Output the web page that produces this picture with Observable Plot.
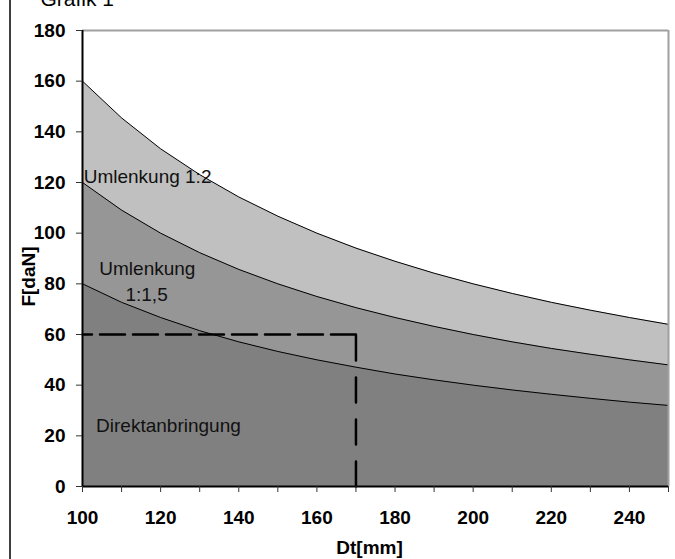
<!DOCTYPE html>
<html>
<head>
<meta charset="utf-8">
<script src="https://cdn.jsdelivr.net/npm/d3@7"></script>
<script src="https://cdn.jsdelivr.net/npm/@observablehq/plot@0.6"></script>
<style>
  html, body { margin: 0; padding: 0; background: #fff; }
  #wrap { position: relative; width: 675px; height: 559px; overflow: hidden; background: #fff; }
  #border { position: absolute; left: 9px; top: 0; width: 2px; height: 559px; background: #404040; }
  #chart { position: absolute; left: 0; top: 0; }
  g[aria-label="x-axis tick label"] text, g[aria-label="y-axis tick label"] text { font-weight: bold; }
</style>
</head>
<body>
<div id="wrap"><div id="chart"></div><div id="border"></div></div>
<script>
// Dt [mm] sample positions
const dt = [100, 110, 120, 130, 140, 150, 160, 170, 180, 190, 200, 210, 220, 230, 240, 250];
// F [daN]
const direktanbringung = [80, 72.7, 66.7, 61.5, 57.1, 53.3, 50.0, 47.1, 44.4, 42.1, 40.0, 38.1, 36.4, 34.8, 33.3, 32.0];
const umlenkung15 = [120, 109.1, 100.0, 92.3, 85.7, 80.0, 75.0, 70.6, 66.7, 63.2, 60.0, 57.1, 54.5, 52.2, 50.0, 48.0];
const umlenkung2 = [160, 145.5, 133.3, 123.1, 114.3, 106.7, 100.0, 94.1, 88.9, 84.2, 80.0, 76.2, 72.7, 69.6, 66.7, 64.0];
// example reading (dashed guide)
const guideDt = [100, 170];
const guideF = [60, 0];
// ticks
const xTicks = [100, 110, 120, 130, 140, 150, 160, 170, 180, 190, 200, 210, 220, 230, 240, 250];
const yTicks = [0, 20, 40, 60, 80, 100, 120, 140, 160, 180];

const rows = dt.map((d, i) => ({dt: d, a: direktanbringung[i], b: umlenkung15[i], c: umlenkung2[i]}));
const guideH = [{x: guideDt[1], y: guideF[0]}, {x: guideDt[0], y: guideF[0]}];
const guideV = [{x: guideDt[1], y: guideF[1]}, {x: guideDt[1], y: guideF[0]}];

const chart = Plot.plot({
  width: 675,
  height: 559,
  marginLeft: 82,
  marginRight: 7,
  marginTop: 30,
  marginBottom: 73,
  style: {fontFamily: "'Liberation Sans', Arial, sans-serif", background: "transparent"},
  x: {domain: [100, 250]},
  y: {domain: [0, 180]},
  marks: [
    Plot.areaY(rows, {x: "dt", y1: 0, y2: "c", fill: "#c0c0c0"}),
    Plot.areaY(rows, {x: "dt", y1: 0, y2: "b", fill: "#969696"}),
    Plot.areaY(rows, {x: "dt", y1: 0, y2: "a", fill: "#808080"}),
    Plot.line(rows, {x: "dt", y: "c", stroke: "#000", strokeWidth: 1}),
    Plot.line(rows, {x: "dt", y: "b", stroke: "#000", strokeWidth: 1}),
    Plot.line(rows, {x: "dt", y: "a", stroke: "#000", strokeWidth: 1}),
    Plot.line(guideH, {x: "x", y: "y", stroke: "#000", strokeWidth: 2.5, strokeDasharray: "25,8"}),
    Plot.line(guideV, {x: "x", y: "y", stroke: "#000", strokeWidth: 2.5, strokeDasharray: "25,17"}),
    Plot.ruleY([180], {stroke: "#a0a0a0", strokeWidth: 2}),
    Plot.ruleX([250], {stroke: "#a0a0a0", strokeWidth: 2}),
    Plot.ruleX([100], {stroke: "#000", strokeWidth: 2}),
    Plot.ruleY([0], {stroke: "#000", strokeWidth: 2}),
    Plot.axisX(xTicks, {tickSize: 6, tickPadding: 18, tickFormat: d => d % 20 === 0 ? String(d) : "", fontSize: 19, stroke: "#333", fill: "#000", label: null}),
    Plot.axisY(yTicks, {tickSize: 6, tickPadding: 11, fontSize: 19, stroke: "#333", fill: "#000", label: null}),
    Plot.text(["Umlenkung 1:2"], {x: 100.3, y: 122.4, textAnchor: "start", fontSize: 19, fill: "#111"}),
    Plot.text(["Umlenkung"], {x: 116.6, y: 86, fontSize: 19, fill: "#111"}),
    Plot.text(["1:1,5"], {x: 116.4, y: 75.8, fontSize: 19, fill: "#111"}),
    Plot.text(["Direktanbringung"], {x: 122, y: 24, fontSize: 19, fill: "#111"}),
    Plot.text(["F[daN]"], {x: 86.4, y: 82.9, rotate: -90, fontSize: 19, fontWeight: "bold", fill: "#000"}),
    Plot.text(["Dt[mm]"], {frameAnchor: "bottom", dx: -6, dy: 67, lineAnchor: "bottom", fontSize: 19, fontWeight: "bold", fill: "#000"}),
    Plot.text(["Grafik 1"], {frameAnchor: "top-left", dx: -42, dy: -25, lineAnchor: "bottom", textAnchor: "start", fontSize: 21, fill: "#000"})
  ]
});
document.getElementById("chart").appendChild(chart);
</script>
</body>
</html>
